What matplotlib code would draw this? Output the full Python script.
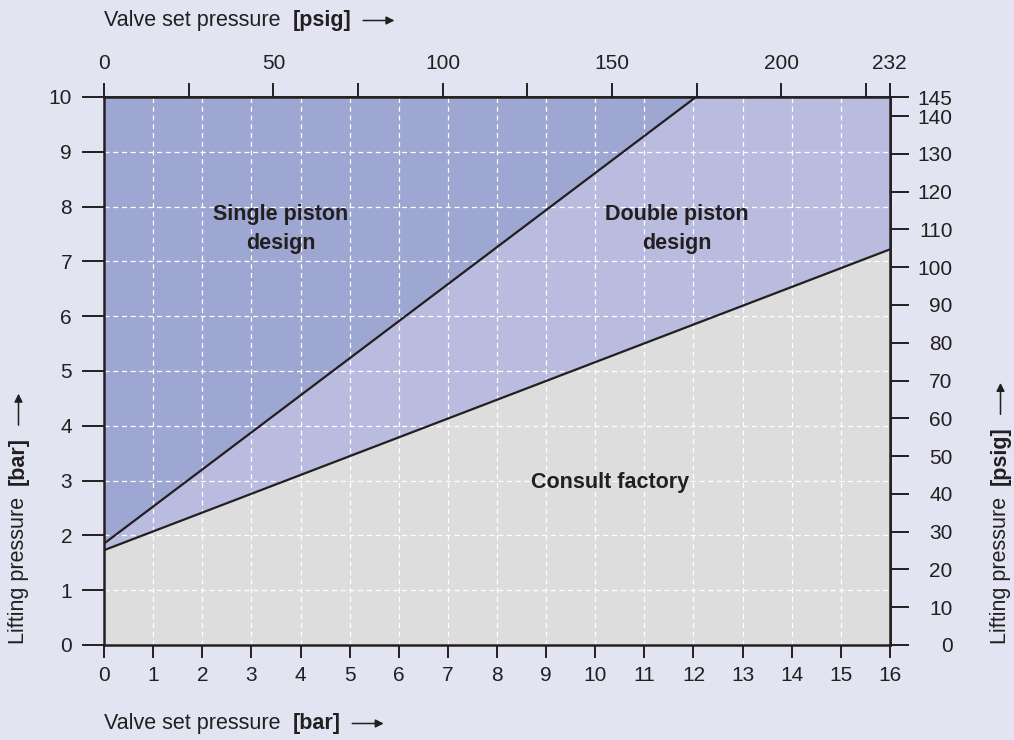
import numpy as np
import matplotlib
matplotlib.use("Agg")
import matplotlib.pyplot as plt
from matplotlib.patches import FancyArrowPatch

plt.rcParams['font.family'] = ['Liberation Sans', 'DejaVu Sans']

PSI = 14.5038  # psig per bar

# boundary lines (bar)
single_x = [0, 12.05]
single_y = [1.85, 10.0]
double_x = [0, 16]
double_y = [1.73, 7.22]

bar_xticks = list(range(0, 17))
bar_yticks = list(range(0, 11))
psig_xticks = [0, 25, 50, 75, 100, 125, 150, 175, 200, 225, 232]
psig_xlabels = ['0', '', '50', '', '100', '', '150', '', '200', '', '232']
psig_yticks = [0, 10, 20, 30, 40, 50, 60, 70, 80, 90, 100, 110, 120, 130, 140, 145]

regions = [("Single piston\ndesign", 3.6, 7.6),
           ("Double piston\ndesign", 11.67, 7.6),
           ("Consult factory", 10.3, 2.96)]

bg = '#e3e4f2'
dark = '#9ea6d2'
light = '#b9bcdf'
grey = '#dddddd'
ink = '#231f20'

fig = plt.figure(figsize=(10.14, 7.4), dpi=100, facecolor=bg)
ax = fig.add_axes([104 / 1014, 95 / 740, 786 / 1014, 548 / 740])
ax.set_facecolor(bg)

ax.fill_between(double_x, double_y, 10, color=light, lw=0, zorder=1)
ax.fill_between(single_x, single_y, 10, color=dark, lw=0, zorder=1)
ax.fill_between(double_x, 0, double_y, color=grey, lw=0, zorder=1)
ax.plot(single_x, single_y, color=ink, lw=1.6, zorder=3, solid_capstyle='butt')
ax.plot(double_x, double_y, color=ink, lw=1.6, zorder=3, solid_capstyle='butt')

ax.set_xlim(0, 16)
ax.set_ylim(0, 10)
ax.set_xticks(bar_xticks)
ax.set_yticks(bar_yticks)
ax.grid(True, color='white', ls=(0, (4, 3)), lw=0.9)
ax.set_axisbelow(False)
for s in ax.spines.values():
    s.set_color(ink)
    s.set_linewidth(1.8)
    s.set_zorder(4)
ax.tick_params(axis='x', direction='out', length=9, width=1.4, pad=6,
               labelsize=15, colors=ink)
ax.tick_params(axis='y', direction='out', length=16, width=1.4, pad=7,
               labelsize=15, colors=ink)

for text, x, y in regions:
    ax.text(x, y, text, ha='center', va='center', fontsize=15.5,
            fontweight='bold', color=ink, linespacing=1.5, zorder=5)

top = ax.secondary_xaxis('top', functions=(lambda b: b * PSI, lambda p: p / PSI))
top.set_xticks(psig_xticks)
top.set_xticklabels(psig_xlabels)
top.tick_params(direction='out', length=10, width=1.4, pad=7, labelsize=15,
                colors=ink)
top.spines['top'].set_linewidth(1.8)

right = ax.secondary_yaxis('right', functions=(lambda b: b * PSI, lambda p: p / PSI))
right.set_yticks(psig_yticks)
right.tick_params(direction='out', length=14, width=1.4, pad=31, labelsize=15,
                  colors=ink)
for lab in right.get_yticklabels():
    lab.set_horizontalalignment('right')
right.spines['right'].set_linewidth(1.8)

renderer = fig.canvas.get_renderer()
W, H = fig.bbox.width, fig.bbox.height


def axis_label(x, y, unit, vertical=False):
    # x, y in pixels from top-left of figure; text starts here
    fx, fy = x / W, 1 - y / H
    rot = 90 if vertical else 0
    kw = dict(rotation=rot, rotation_mode='anchor', ha='left',
              va='baseline', fontsize=15.5, color=ink)
    t1 = fig.text(fx, fy, "Valve set pressure" if not vertical else "Lifting pressure", **kw)
    e = t1.get_window_extent(renderer)
    gap = 12
    if vertical:
        t2 = fig.text(fx, (e.y1 + gap) / H, "[%s]" % unit, fontweight='bold', **kw)
        e2 = t2.get_window_extent(renderer)
        start = (x - 5.5, e2.y1 + 9)
        end = (x - 5.5, e2.y1 + 46)
    else:
        t2 = fig.text((e.x1 + gap) / W, fy, "[%s]" % unit, fontweight='bold', **kw)
        e2 = t2.get_window_extent(renderer)
        start = (e2.x1 + 9, H - y + 5.5)
        end = (e2.x1 + 46, H - y + 5.5)
    arr = FancyArrowPatch((start[0] / W, start[1] / H), (end[0] / W, end[1] / H),
                          transform=fig.transFigure, arrowstyle='-|>',
                          mutation_scale=12, lw=1.1, color=ink)
    fig.add_artist(arr)


axis_label(104, 26, 'psig')
axis_label(104, 729, 'bar')
axis_label(24, 644, 'bar', vertical=True)
axis_label(1006, 644, 'psig', vertical=True)

fig.savefig('out.png', dpi=100, facecolor=bg)
